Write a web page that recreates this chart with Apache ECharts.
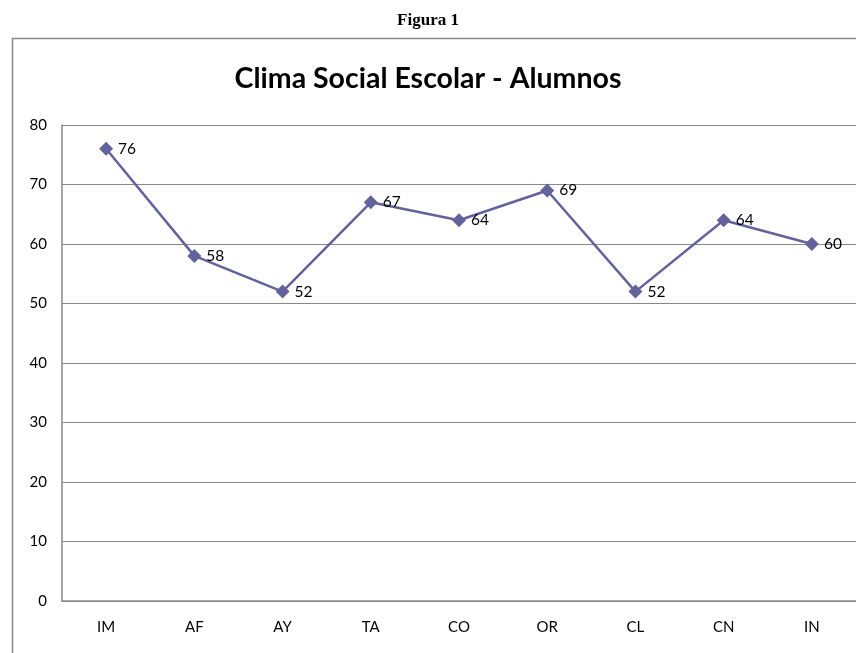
<!DOCTYPE html>
<html>
<head>
<meta charset="utf-8">
<script src="https://cdn.jsdelivr.net/npm/echarts@6/dist/echarts.min.js"></script>
<style>
  html, body { margin: 0; padding: 0; background: #fff; }
  #chart { width: 856px; height: 653px; }
</style>
</head>
<body>
<div id="chart"></div>
<script>
const categories = ["IM", "AF", "AY", "TA", "CO", "OR", "CL", "CN", "IN"];
const values = [76, 58, 52, 67, 64, 69, 52, 64, 60];
const yTicks = { min: 0, max: 80, interval: 10 };

const lineColor = "#62629c";

const chart = echarts.init(document.getElementById("chart"));
chart.setOption({
  animation: false,
  backgroundColor: "#fff",
  graphic: [
    {
      type: "rect",
      shape: { x: 12.5, y: 38.5, width: 860, height: 640 },
      style: { fill: "none", stroke: "#888", lineWidth: 1.5 },
      z: -1
    }
  ],
  title: [
    {
      text: "Figura 1",
      left: "center",
      top: 7,
      textStyle: { fontFamily: "Liberation Serif", fontWeight: "bold", fontSize: 17, color: "#000" }
    },
    {
      text: "Clima Social Escolar - Alumnos",
      left: "center",
      top: 59,
      textStyle: { fontFamily: "Lato", fontWeight: "bold", fontSize: 28.5, color: "#000" }
    }
  ],
  grid: { left: 62, right: 0, top: 125, bottom: 52, containLabel: false },
  xAxis: {
    type: "category",
    data: categories,
    boundaryGap: true,
    axisLine: { lineStyle: { color: "#888", width: 1.5 } },
    axisTick: { show: false },
    axisLabel: { color: "#000", fontFamily: "Lato", fontSize: 15, margin: 19 }
  },
  yAxis: {
    type: "value",
    min: yTicks.min,
    max: yTicks.max,
    interval: yTicks.interval,
    axisLine: { show: true, lineStyle: { color: "#888", width: 1.5 } },
    axisTick: { show: false },
    axisLabel: { color: "#000", fontFamily: "Lato", fontSize: 15, margin: 15 },
    splitLine: { lineStyle: { color: "#888", width: 1 } }
  },
  series: [
    {
      type: "line",
      data: values,
      symbol: "diamond",
      symbolSize: 14,
      lineStyle: { color: lineColor, width: 2.5 },
      itemStyle: { color: lineColor },
      label: {
        show: true,
        position: "right",
        distance: 5,
        color: "#000",
        fontFamily: "Lato",
        fontSize: 15.5
      }
    }
  ]
});
</script>
</body>
</html>
